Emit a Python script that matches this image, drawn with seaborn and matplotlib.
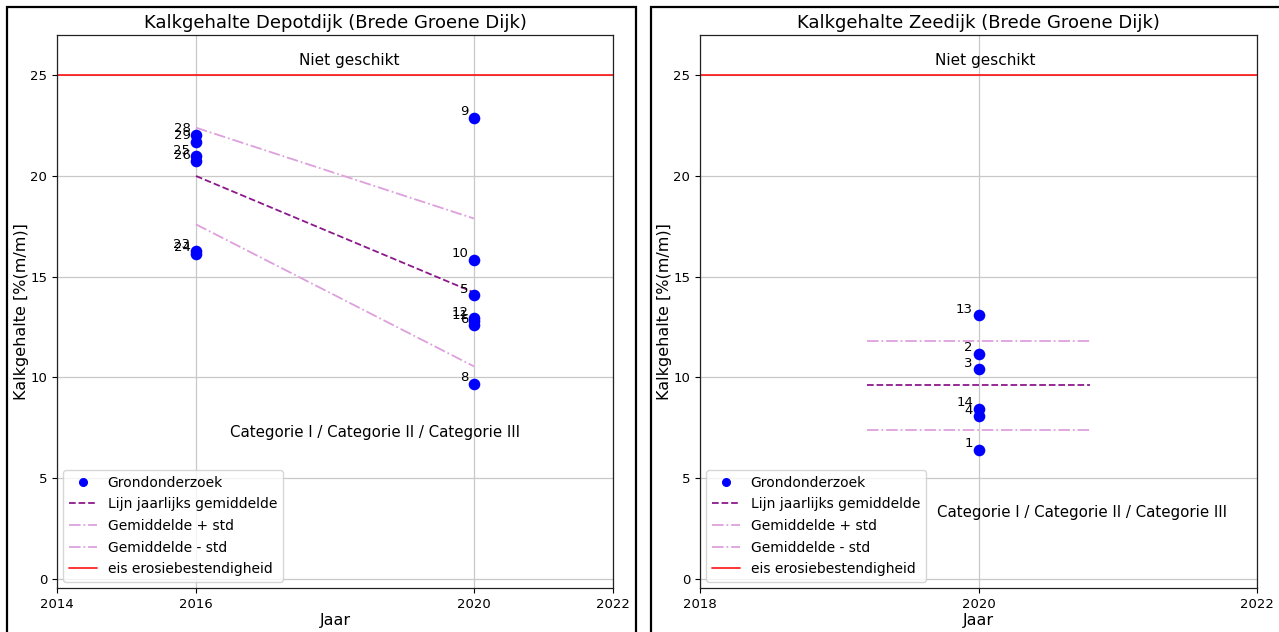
import matplotlib
matplotlib.use("Agg")
import matplotlib.pyplot as plt
from matplotlib.lines import Line2D
from matplotlib.patches import Rectangle
import seaborn as sns
import pandas as pd

# Depotdijk measurements (Grondonderzoek)
depot_jaar = [2016, 2016, 2016, 2016, 2016, 2016, 2020, 2020, 2020, 2020, 2020, 2020, 2020]
depot_kalk = [22.05, 21.7, 21.0, 20.75, 16.3, 16.15, 22.9, 15.85, 14.1, 12.95, 12.8, 12.6, 9.7]
depot_nr = ["28", "29", "25", "26", "23", "24", "9", "10", "5", "12", "11", "6", "8"]

# Yearly mean and standard deviation, Depotdijk
depot_gem_jaar = [2016, 2020]
depot_gem = [20.0, 14.22]
depot_std = [2.4, 3.67]

# Zeedijk measurements
zee_jaar = [2020, 2020, 2020, 2020, 2020, 2020]
zee_kalk = [13.1, 11.18, 10.42, 8.45, 8.07, 6.41]
zee_nr = ["13", "2", "3", "14", "4", "1"]

# Mean and standard deviation, Zeedijk (drawn as a band around 2020)
zee_gem_jaar = [2019.2, 2020.8]
zee_gem = 9.61
zee_std = 2.21

eis = 25.0

sns.set_style("ticks")
plt.rcParams["font.family"] = ["DejaVu Sans"]
plt.rcParams["text.color"] = "black"
plt.rcParams["axes.labelcolor"] = "black"
plt.rcParams["xtick.color"] = "black"
plt.rcParams["ytick.color"] = "black"

fig = plt.figure(figsize=(12.79, 6.32), dpi=100)

ax1 = fig.add_axes([57 / 1279, 1 - 588 / 632, 556 / 1279, 553 / 632])
ax2 = fig.add_axes([700 / 1279, 1 - 588 / 632, 557 / 1279, 553 / 632])

# black frames around both panels
fig.patches.append(Rectangle((7 / 1279, -0.05), 629 / 1279, 1.05 - 7 / 632,
                             transform=fig.transFigure, fill=False,
                             lw=1.6, ec="black", zorder=10))
fig.patches.append(Rectangle((651 / 1279, -0.05), 0.6, 1.05 - 7 / 632,
                             transform=fig.transFigure, fill=False,
                             lw=1.6, ec="black", zorder=10))

C_PT = "blue"
C_GEM = "purple"
C_STD = "plum"
C_EIS = "red"


def draw_panel(ax, jaar, kalk, nrs, gx, gem, std_up, std_lo, title, xlim, xticks,
               niet_x, cat_xy):
    ax.grid(True, color="#c8c8c8", lw=0.9)
    ax.set_axisbelow(True)
    df = pd.DataFrame({"Jaar": jaar, "Kalk": kalk})
    sns.scatterplot(data=df, x="Jaar", y="Kalk", ax=ax, color=C_PT, s=70,
                    edgecolor=C_PT, linewidth=0, zorder=5)
    for x, y, n in zip(jaar, kalk, nrs):
        ax.annotate(n, (x, y), xytext=(-4, -0.5), textcoords="offset points",
                    ha="right", va="bottom", fontsize=9.5)
    ax.plot(gx, gem, color=C_GEM, ls="--", lw=1.3, alpha=0.9)
    ax.plot(gx, std_up, color=C_STD, ls="-.", lw=1.3)
    ax.plot(gx, std_lo, color=C_STD, ls="-.", lw=1.3)
    ax.axhline(eis, color=C_EIS, lw=1.3, alpha=0.85)
    ax.text(niet_x, 25.75, "Niet geschikt", ha="center", va="center", fontsize=11)
    ax.text(cat_xy[0], cat_xy[1], "Categorie I / Categorie II / Categorie III",
            ha="center", va="center", fontsize=10.8)
    ax.set_xlim(*xlim)
    ax.set_xticks(xticks)
    ax.set_ylim(-0.45, 27)
    ax.set_yticks([0, 5, 10, 15, 20, 25])
    ax.tick_params(labelsize=9.5, length=3.5, width=0.8)
    for s in ax.spines.values():
        s.set_color("#222222")
        s.set_linewidth(0.9)
    ax.set_title(title, fontsize=13, pad=5)
    ax.set_xlabel("Jaar", fontsize=11.5, labelpad=2)
    ax.set_ylabel("Kalkgehalte [%(m/m)]", fontsize=11.5, labelpad=1)
    handles = [
        Line2D([], [], ls="none", marker="o", color=C_PT, markersize=5.5),
        Line2D([], [], color=C_GEM, ls="--", lw=1.3, alpha=0.9),
        Line2D([], [], color=C_STD, ls="-.", lw=1.3),
        Line2D([], [], color=C_STD, ls="-.", lw=1.3),
        Line2D([], [], color=C_EIS, lw=1.3, alpha=0.85),
    ]
    labels = ["Grondonderzoek", "Lijn jaarlijks gemiddelde", "Gemiddelde + std",
              "Gemiddelde - std", "eis erosiebestendigheid"]
    ax.legend(handles, labels, loc="lower left", fontsize=10, framealpha=0.8,
              borderaxespad=0.45, handlelength=2.0, labelspacing=0.55)


draw_panel(ax1, depot_jaar, depot_kalk, depot_nr, depot_gem_jaar, depot_gem,
           [g + s for g, s in zip(depot_gem, depot_std)],
           [g - s for g, s in zip(depot_gem, depot_std)],
           "Kalkgehalte Depotdijk (Brede Groene Dijk)", (2014, 2022),
           [2014, 2016, 2020, 2022], 2018.2, (2018.58, 7.26))

draw_panel(ax2, zee_jaar, zee_kalk, zee_nr, zee_gem_jaar, [zee_gem, zee_gem],
           [zee_gem + zee_std] * 2, [zee_gem - zee_std] * 2,
           "Kalkgehalte Zeedijk (Brede Groene Dijk)", (2018, 2022),
           [2018, 2020, 2022], 2020.05, (2020.74, 3.28))

fig.savefig("out.png", dpi=100)
